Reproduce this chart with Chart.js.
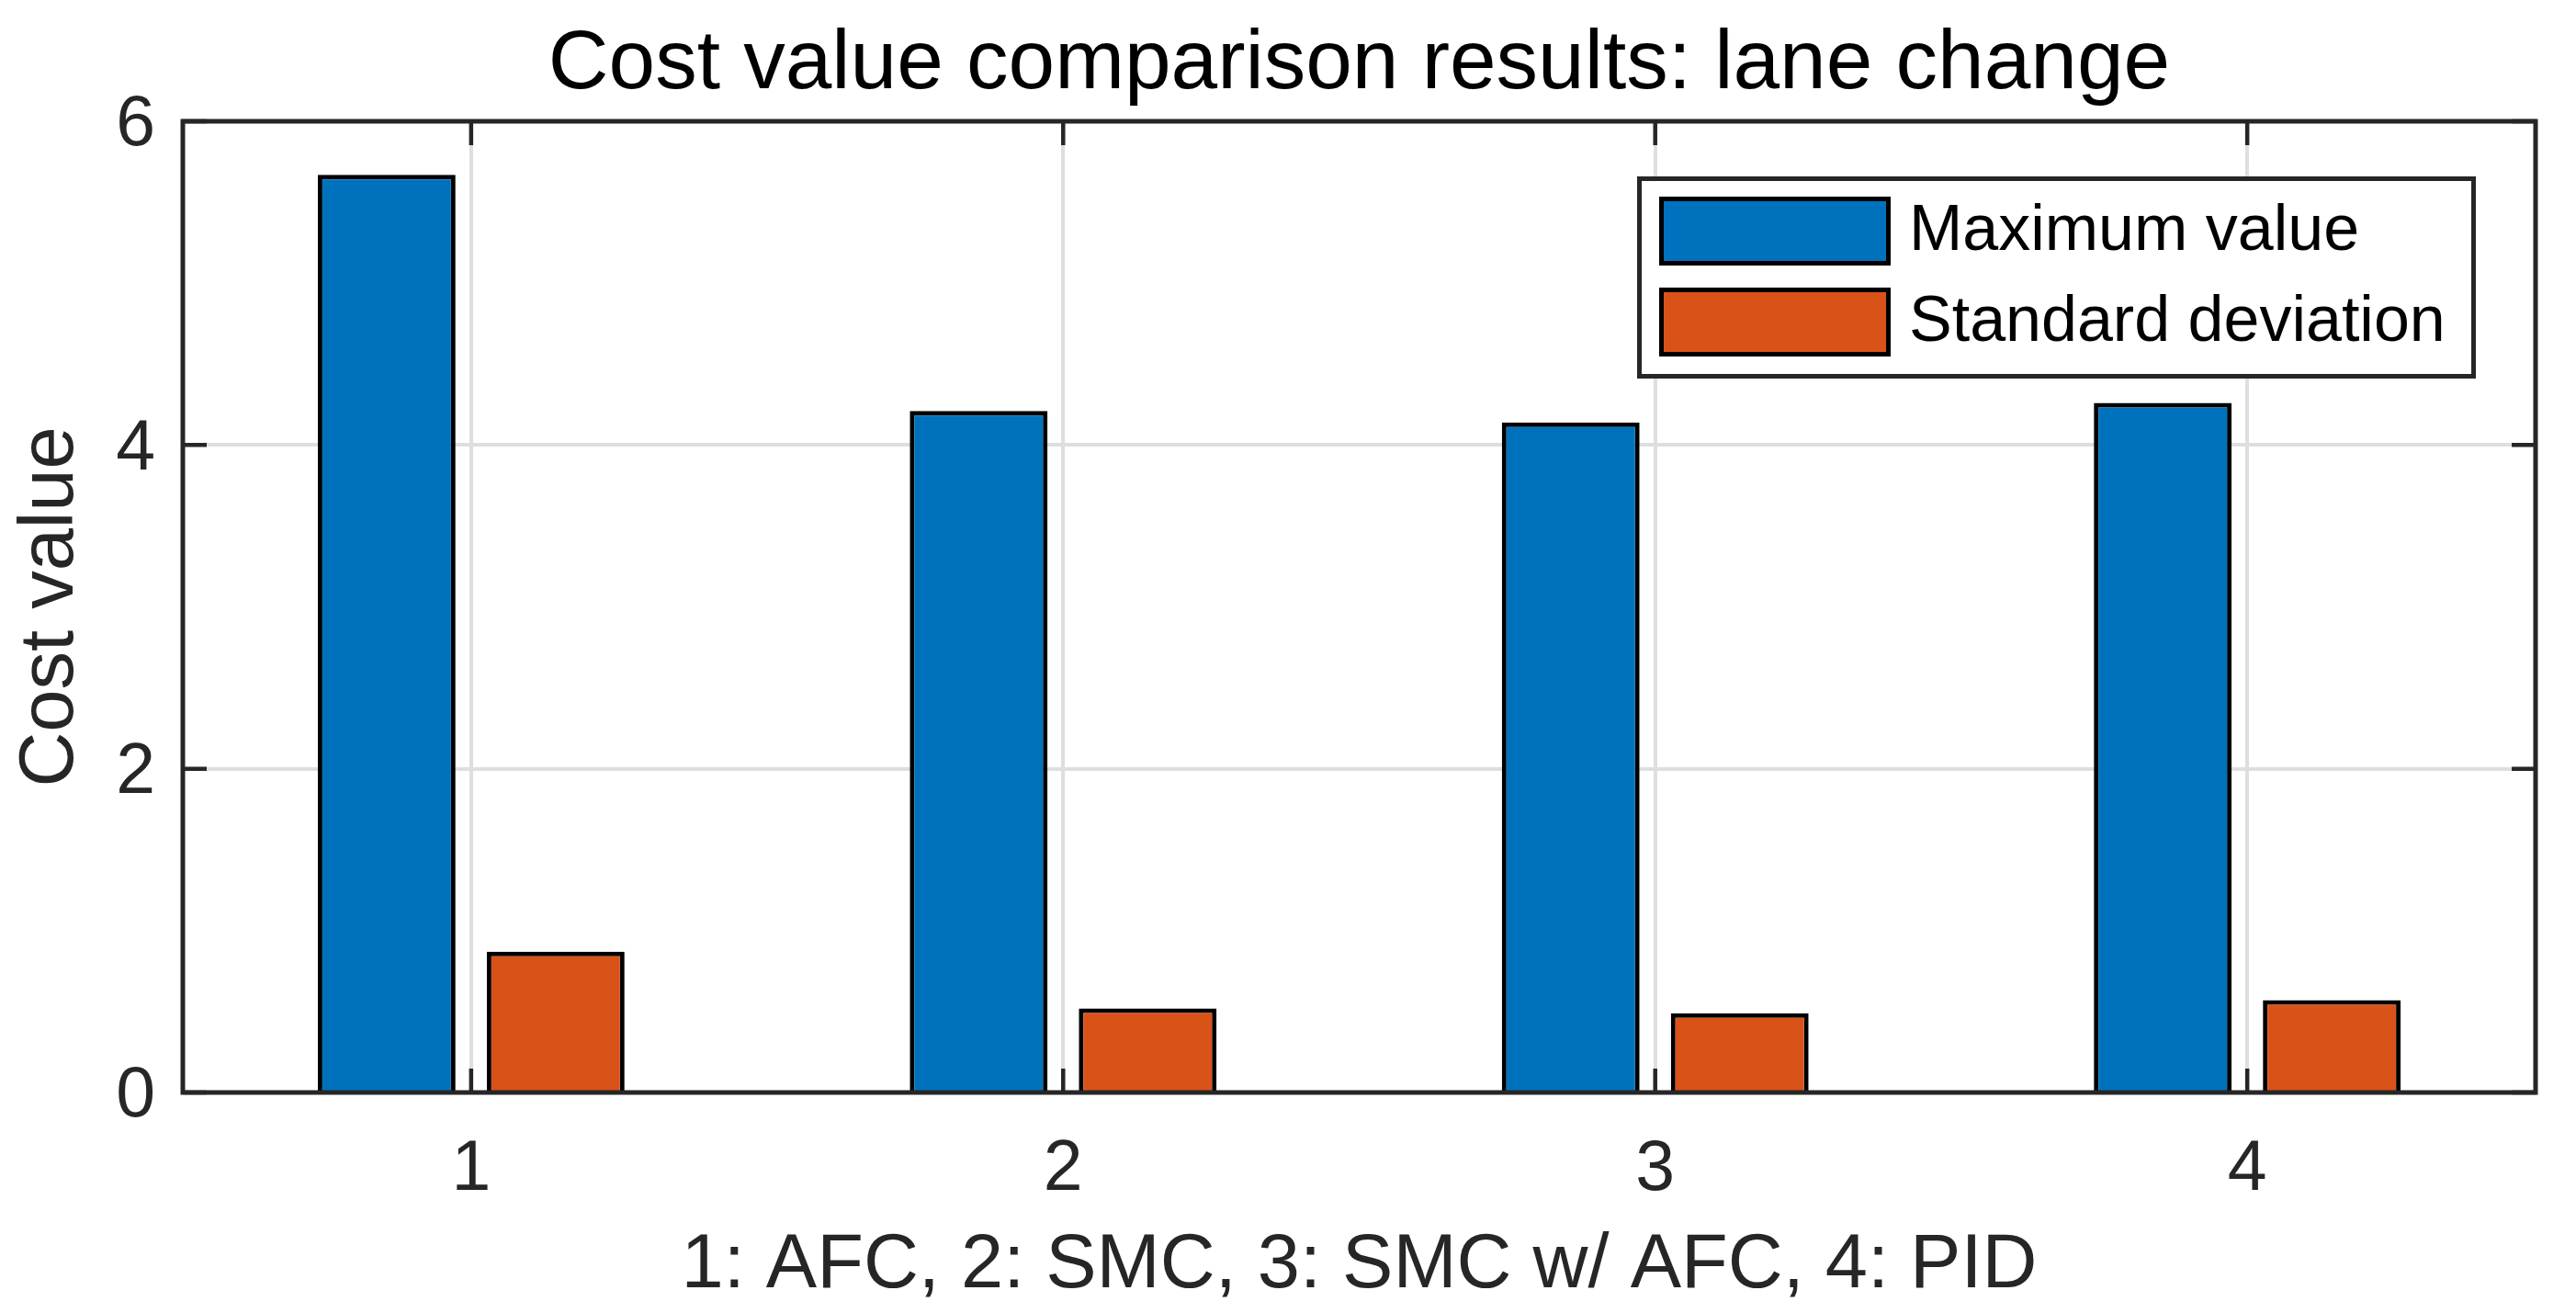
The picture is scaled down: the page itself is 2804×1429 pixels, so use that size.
<!DOCTYPE html>
<html>
<head>
<meta charset="utf-8">
<script src="https://cdn.jsdelivr.net/npm/chart.js@4.4.1/dist/chart.umd.min.js"></script>
<style>
  html, body { margin: 0; padding: 0; background: #fff; }
  canvas { display: block; }
</style>
</head>
<body>
<canvas id="chart" width="2804" height="1429" style="width:2804px;height:1429px"></canvas>
<script>
// data
const categories = ['1', '2', '3', '4'];
const maxValues = [5.67, 4.21, 4.14, 4.26];
const stdValues = [0.87, 0.52, 0.49, 0.57];
const seriesNames = ['Maximum value', 'Standard deviation'];
const yTicks = [0, 2, 4, 6];
const chartTitle = 'Cost value comparison results: lane change';

const FONT = '"Liberation Sans", Arial, Helvetica, sans-serif';
const AXIS_COLOR = '#262626';
const GRID_COLOR = '#dedede';

// box around the axes, inward tick marks, title over the axes and the boxed legend (matlab look)
const framePlugin = {
    id: 'frame',
    afterDatasetsDraw(chart) {
        const { ctx, chartArea: a, scales: { x, y } } = chart;
        const tickLen = 26;
        ctx.save();
        ctx.strokeStyle = AXIS_COLOR;
        ctx.lineWidth = 4.5;
        ctx.beginPath();
        categories.forEach(c => {
            const px = x.getPixelForValue(Number(c));
            ctx.moveTo(px, a.bottom);
            ctx.lineTo(px, a.bottom - tickLen);
            ctx.moveTo(px, a.top);
            ctx.lineTo(px, a.top + tickLen);
        });
        yTicks.forEach(v => {
            const py = y.getPixelForValue(v);
            ctx.moveTo(a.left, py);
            ctx.lineTo(a.left + tickLen, py);
            ctx.moveTo(a.right, py);
            ctx.lineTo(a.right - tickLen, py);
        });
        ctx.stroke();
        ctx.lineWidth = 5;
        ctx.strokeRect(a.left, a.top, a.right - a.left, a.bottom - a.top);
        ctx.restore();
    },
    afterDraw(chart) {
        const { ctx, chartArea: a } = chart;
        ctx.save();

        // title, centred on the axes like matlab does
        ctx.font = '91px ' + FONT;
        ctx.fillStyle = '#000';
        ctx.textAlign = 'center';
        ctx.textBaseline = 'alphabetic';
        ctx.fillText(chartTitle, (a.left + a.right) / 2, 96);

        // legend box
        const boxW = 913, boxH = 220;
        const boxX = a.right - 65 - boxW;
        const boxY = a.top + 60;
        ctx.fillStyle = '#fff';
        ctx.fillRect(boxX, boxY, boxW, boxH);
        ctx.strokeStyle = AXIS_COLOR;
        ctx.lineWidth = 5;
        ctx.strokeRect(boxX + 2.5, boxY + 2.5, boxW - 5, boxH - 5);

        ctx.font = '70px ' + FONT;
        ctx.textBaseline = 'middle';
        ctx.textAlign = 'left';
        chart.data.datasets.forEach((ds, i) => {
            const sx = boxX + 24, sy = boxY + 22 + i * 99;
            const sw = 252, sh = 75;
            ctx.fillStyle = ds.backgroundColor;
            ctx.fillRect(sx, sy, sw, sh);
            ctx.strokeStyle = '#000';
            ctx.lineWidth = 5;
            ctx.strokeRect(sx + 2.5, sy + 2.5, sw - 5, sh - 5);
            ctx.fillStyle = '#000';
            ctx.fillText(ds.label, sx + sw + 20, sy + sh / 2 + 1);
        });
        ctx.restore();
    }
};

const ctx = document.getElementById('chart').getContext('2d');
new Chart(ctx, {
    type: 'bar',
    data: {
        labels: categories,
        datasets: [
            {
                label: seriesNames[0],
                data: maxValues,
                backgroundColor: '#0072BD',
                borderColor: '#000',
                borderWidth: 5,
                categoryPercentage: 0.571,
                barPercentage: 0.815
            },
            {
                label: seriesNames[1],
                data: stdValues,
                backgroundColor: '#D95319',
                borderColor: '#000',
                borderWidth: 5,
                categoryPercentage: 0.571,
                barPercentage: 0.815
            }
        ]
    },
    options: {
        responsive: false,
        animation: false,
        devicePixelRatio: 1,
        layout: { padding: { left: 0, right: 44, top: 132, bottom: 0 } },
        plugins: {
            legend: { display: false },
            tooltip: { enabled: false },
            title: { display: false }
        },
        scales: {
            x: {
                type: 'linear',
                min: 0.513,
                max: 4.487,
                offset: false,
                afterBuildTicks: s => { s.ticks = categories.map(c => ({ value: Number(c) })); },
                afterFit: s => { s.height = 240; },
                grid: { color: GRID_COLOR, lineWidth: 4, drawTicks: false, offset: false },
                border: { display: false },
                ticks: {
                    color: AXIS_COLOR,
                    padding: 46,
                    font: { family: FONT, size: 77, lineHeight: 1 },
                    callback: v => String(v)
                },
                title: {
                    display: true,
                    text: '1: AFC, 2: SMC, 3: SMC w/ AFC, 4: PID',
                    color: AXIS_COLOR,
                    font: { family: FONT, size: 83, lineHeight: 1 },
                    padding: { top: 0, bottom: 9 }
                }
            },
            y: {
                min: 0,
                max: 6,
                afterBuildTicks: s => { s.ticks = yTicks.map(v => ({ value: v })); },
                afterFit: s => { s.width = 199; },
                grid: { color: GRID_COLOR, lineWidth: 4, drawTicks: false },
                border: { display: false },
                ticks: {
                    color: AXIS_COLOR,
                    padding: 30,
                    labelOffset: 5,
                    font: { family: FONT, size: 77, lineHeight: 1 }
                },
                title: {
                    display: true,
                    text: 'Cost value',
                    color: AXIS_COLOR,
                    font: { family: FONT, size: 83, lineHeight: 1 },
                    padding: { top: 15, bottom: 0 }
                }
            }
        }
    },
    plugins: [framePlugin]
});
</script>
</body>
</html>
